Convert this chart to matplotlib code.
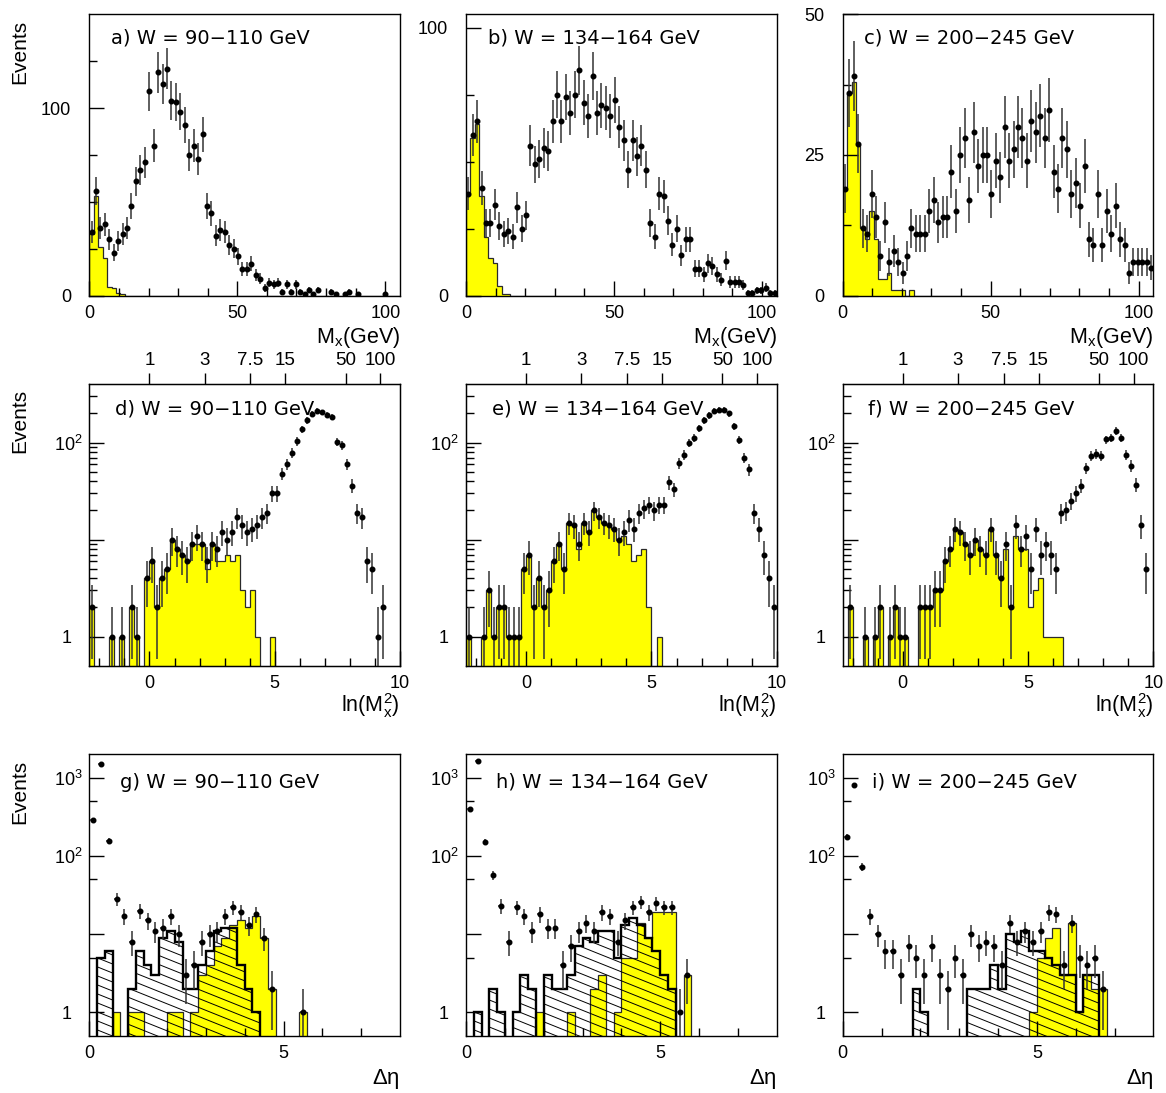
import numpy as np
import matplotlib.pyplot as plt
from matplotlib.patches import Polygon

plt.rcParams['font.family'] = ['Liberation Sans', 'DejaVu Sans']
plt.rcParams['mathtext.fontset'] = 'custom'
plt.rcParams['mathtext.rm'] = 'Liberation Sans'
plt.rcParams['mathtext.it'] = 'Liberation Sans:italic'
plt.rcParams['mathtext.default'] = 'regular'

w_ranges = ['90\u2212110', '134\u2212164', '200\u2212245']

# M_X spectra: 1.5 GeV bins from 0 to 105 GeV
mx_edges = np.linspace(0, 105, 71)
mx_data_a = [34, 56, 36, 38, 30, 23, 29, 33, 36, 48,
             61, 67, 71, 109, 80, 119, 113, 121, 104, 103,
             98, 91, 75, 80, 73, 86, 48, 44, 32, 35,
             34, 27, 25, 21, 14, 14, 17, 11, 9, 4,
             7, 6, 7, 2, 6, 2, 6, 2, 1, 3,
             1, 3, 0, 0, 2, 1, 0, 1, 2, 0,
             1, 0, 0, 0, 0, 0, 1, 0, 0, 0]
mx_mc_a = [33, 53, 26, 20, 4.5, 4, 1.2, 0.8]
mx_data_b = [38, 60, 65, 40, 27, 27, 34, 26, 23, 24,
             22, 33, 25, 30, 56, 49, 51, 55, 54, 65,
             75, 65, 74, 68, 75, 84, 72, 67, 82, 68,
             71, 70, 67, 73, 63, 58, 47, 58, 52, 56,
             47, 27, 22, 38, 37, 28, 19, 25, 15, 21,
             21, 10, 10, 8, 12, 11, 8, 6, 13, 5,
             5, 5, 4, 1, 1, 2, 2, 3, 1, 1]
mx_mc_b = [38, 59, 64, 37, 22, 14, 12, 3.7, 0.7, 0.7]
mx_data_c = [19, 36, 39, 27, 12, 11, 18, 14, 7, 13,
             6, 8, 6, 4, 7, 12, 11, 11, 11, 15,
             17, 13, 14, 14, 22, 15, 25, 28, 17, 29,
             23, 25, 25, 18, 24, 21, 30, 24, 26, 30,
             28, 24, 31, 29, 32, 28, 33, 22, 19, 28,
             26, 18, 20, 16, 23, 10, 9, 18, 9, 15,
             11, 16, 10, 9, 4, 6, 6, 6, 6, 5]
mx_mc_c = [19, 36, 38, 27, 12, 10, 15, 10, 3, 3, 4, 1, 1, 1, 0, 1]

# ln(M_X^2) spectra: 0.2 wide bins from -2.4 to 10
lnm_edges = np.linspace(-2.4, 10, 63)
lnm_data_d = [2, 0, 0, 0, 1, 0, 1, 0, 2, 1,
              0, 4, 6, 2, 4, 5, 10, 8, 7, 6,
              9, 11, 9, 6, 9, 8, 12, 10, 12, 17,
              14, 12, 13, 14, 17, 19, 30, 30, 48, 60,
              79, 103, 137, 170, 198, 211, 205, 195, 185, 102,
              94, 60, 36, 19, 17, 6, 5, 1, 2, 0,
              0, 0]
lnm_mc_d = [2, 0, 0, 0, 1, 0, 1, 0, 2, 1,
            0, 4, 6, 2, 4, 5, 10, 8, 7, 6,
            9, 9, 9, 5, 9, 6, 6, 7, 6, 7,
            3, 2, 3, 1, 0, 0, 1]
lnm_data_e = [1, 0, 0, 1, 3, 1, 2, 2, 1, 1,
              1, 5, 7, 2, 4, 2, 3, 6, 9, 5,
              15, 14, 9, 15, 12, 20, 17, 15, 14, 13,
              10, 12, 16, 13, 19, 21, 23, 20, 23, 23,
              39, 33, 62, 75, 100, 112, 142, 170, 191, 211,
              216, 218, 200, 147, 107, 70, 53, 19, 13, 7,
              4, 2]
lnm_mc_e = [1, 0, 0, 1, 3, 1, 2, 2, 1, 1,
            1, 5, 7, 2, 4, 2, 3, 6, 9, 5,
            15, 14, 8, 15, 12, 20, 17, 15, 14, 13,
            10, 11, 9, 6, 7, 8, 2, 0, 1]
lnm_data_f = [0, 2, 0, 0, 1, 0, 1, 2, 0, 1,
              2, 1, 1, 0, 0, 2, 2, 2, 3, 3,
              6, 8, 13, 12, 9, 7, 10, 8, 7, 13,
              7, 4, 9, 2, 14, 8, 11, 5, 13, 7,
              9, 7, 5, 19, 20, 25, 30, 36, 55, 73,
              77, 73, 108, 113, 132, 112, 75, 58, 37, 14,
              5, 0]
lnm_mc_f = [0, 2, 0, 0, 1, 0, 1, 2, 0, 1,
            2, 1, 1, 0, 0, 2, 2, 2, 3, 3,
            6, 8, 13, 12, 9, 7, 10, 8, 7, 13,
            7, 4, 8, 2, 11, 8, 8, 2, 3, 4,
            1, 1, 1, 1]
mx_top_ticks = [1, 3, 7.5, 15, 50, 100]
mx_top_labels = ['1', '3', '7.5', '15', '50', '100']

# rapidity gap spectra: 0.2 wide bins from 0 to 8
deta_edges = np.linspace(0, 8, 41)
deta_data_g = [290, 1520, 156, 28, 17, 8, 20, 15, 11, 12,
               17, 10, 3, 4, 8, 10, 11, 17, 22, 19,
               13, 18, 9, 2, 0, 0, 0, 1]
deta_mc_g = [0, 0, 0, 1, 0, 1, 1, 0, 0, 0,
             1, 1, 0, 1, 3, 4, 7, 9, 13, 15,
             12, 17, 9, 2, 0, 0, 0, 1]
deta_hatch_g = [0, 5, 6, 0, 0, 2, 6, 4, 3, 9,
                11, 8, 2, 2, 4, 6, 11, 12, 12, 4,
                2, 1]
deta_data_h = [398, 1620, 153, 57, 23, 8, 22, 17, 11, 18,
               12, 12, 4, 7, 11, 14, 11, 19, 17, 8,
               15, 22, 26, 19, 25, 22, 22, 1, 3]
deta_mc_h = [0, 0, 0, 0, 0, 0, 0, 0, 0, 1,
             0, 0, 0, 1, 0, 0, 2, 3, 0, 1,
             5, 5, 14, 9, 19, 19, 19, 0, 3]
deta_hatch_h = [0, 1, 0, 2, 1, 0, 1, 3, 2, 0,
                3, 2, 2, 3, 7, 9, 8, 11, 11, 5,
                13, 16, 13, 9, 6, 3, 2]
deta_data_i = [175, 805, 73, 17, 10, 6, 6, 3, 7, 5,
               3, 7, 3, 2, 5, 3, 10, 7, 8, 7,
               4, 14, 8, 11, 8, 11, 19, 18, 4, 14,
               5, 4, 5, 2]
deta_mc_i = [0, 0, 0, 0, 0, 0, 0, 0, 0, 0,
             0, 0, 0, 0, 0, 0, 0, 0, 0, 0,
             0, 0, 0, 0, 1, 5, 9, 12, 3, 14,
             1, 3, 2, 2]
deta_hatch_i = [0, 0, 0, 0, 0, 0, 0, 0, 0, 2,
                1, 0, 0, 0, 0, 0, 2, 2, 2, 4,
                2, 10, 8, 11, 6, 6, 5, 4, 3, 3,
                1, 3, 3]


def pad(vals, n):
    out = np.zeros(n)
    out[:len(vals)] = vals
    return out


def yellow_hist(ax, edges, vals, floor):
    v = pad(vals, len(edges) - 1)
    v = np.where(v > 0, v, floor)
    ax.stairs(v, edges, baseline=floor, fill=True, facecolor='#ffff00',
              edgecolor='#2a2a2a', linewidth=0.9, zorder=1)


def hatched_hist(ax, edges, vals, floor):
    v = pad(vals, len(edges) - 1)
    v = np.where(v > 0, v, floor)
    xs = np.repeat(edges, 2)
    ys = np.concatenate([[floor], np.repeat(v, 2), [floor]])
    poly = Polygon(np.column_stack([xs, ys]), closed=True, facecolor='none',
                   edgecolor='black', linewidth=1.7, zorder=3)
    ax.add_patch(poly)
    # shallow diagonal hatching, clipped to the histogram outline
    for c in np.arange(0.0, 1.5, 0.032):
        ln, = ax.plot([0, 1], [c, c - 0.442], transform=ax.transAxes,
                      color='black', linewidth=0.7, zorder=2)
        ln.set_clip_path(poly)


def data_points(ax, edges, counts, xerr=None, log=False):
    c = pad(counts, len(edges) - 1)
    centers = 0.5 * (edges[1:] + edges[:-1])
    m = c > 0
    err = np.sqrt(c[m])
    lo = np.minimum(err, c[m] * 0.999) if log else err
    ax.errorbar(centers[m], c[m], yerr=[lo, err], xerr=xerr, fmt='o', ms=3.3,
                color='black', ecolor='#333333', elinewidth=1.1, capsize=0,
                zorder=4)


fig = plt.figure(figsize=(11.66, 10.93), dpi=100)
lefts = [0.0766, 0.3997, 0.7227]
bottoms = [0.7295, 0.3909, 0.0524]
width, height = 0.2665, 0.2575

letters = 'abcdefghi'
title_x = [[0.07, 0.07, 0.069], [0.083, 0.083, 0.082], [0.10, 0.097, 0.093]]
title_y = [0.916, 0.914, 0.90]

top_row = [(mx_data_a, mx_mc_a, [0, 100], [25, 50, 75, 125], 150),
           (mx_data_b, mx_mc_b, [0, 100], [25, 50, 75], 105),
           (mx_data_c, mx_mc_c, [0, 25, 50], [12.5, 37.5], 50)]
mid_row = [(lnm_data_d, lnm_mc_d), (lnm_data_e, lnm_mc_e), (lnm_data_f, lnm_mc_f)]
bot_row = [(deta_data_g, deta_mc_g, deta_hatch_g),
           (deta_data_h, deta_mc_h, deta_hatch_h),
           (deta_data_i, deta_mc_i, deta_hatch_i)]


def frame(ax, ypad):
    for s in ax.spines.values():
        s.set_linewidth(1.0)
    ax.tick_params(which='both', direction='in', top=False, right=False,
                   labelsize=13, width=1.0)
    ax.tick_params(which='major', length=11)
    ax.tick_params(which='minor', length=6)
    ax.tick_params(axis='x', pad=7)
    ax.tick_params(axis='y', pad=ypad)


for row in range(3):
    for col in range(3):
        ax = fig.add_axes([lefts[col], bottoms[row], width, height])
        k = row * 3 + col
        if row == 0:
            dat, mc, ymaj, ymin, ytop = top_row[col]
            yellow_hist(ax, mx_edges, mc, 0)
            data_points(ax, mx_edges, dat)
            ax.set_xlim(0, 105)
            ax.set_ylim(0, ytop)
            ax.set_yticks(ymaj)
            ax.set_yticks(ymin, minor=True)
            ax.set_xticks([0, 50, 100])
            ax.set_xticks([v for v in range(10, 105, 10) if v not in (50, 100)], minor=True)
            frame(ax, 13)
            ax.text(1.0, -0.147, r'M$_x$(GeV)', transform=ax.transAxes,
                    ha='right', va='center', fontsize=15.5)
        elif row == 1:
            dat, mc = mid_row[col]
            ax.set_yscale('log')
            yellow_hist(ax, lnm_edges, mc, 0.1)
            data_points(ax, lnm_edges, dat, xerr=0.07, log=True)
            ax.set_xlim(-2.4, 10)
            ax.set_ylim(0.5, 400)
            ax.set_yticks([1, 10, 100])
            ax.set_yticklabels(['1  ', '', '$10^2$'])
            ax.set_yticks([v * d for d in (1, 10, 100) for v in range(2, 10)
                           if v * d < 400], minor=True)
            ax.set_yticklabels([], minor=True)
            ax.set_xticks([0, 5, 10])
            ax.set_xticks([-2, -1, 1, 2, 3, 4, 6, 7, 8, 9], minor=True)
            frame(ax, 5)
            tw = ax.twiny()
            tw.set_xlim(-2.4, 10)
            tw.set_xticks(2 * np.log(mx_top_ticks))
            tw.set_xticklabels(mx_top_labels)
            tw.tick_params(axis='x', direction='out', length=8, width=1.0,
                           labelsize=13.5, pad=3)
            tw.xaxis.set_minor_locator(plt.NullLocator())
            ax.text(1.0, -0.143, r'ln(M$_x^2$)', transform=ax.transAxes,
                    ha='right', va='center', fontsize=15.5)
        else:
            dat, mc, hat = bot_row[col]
            ax.set_yscale('log')
            yellow_hist(ax, deta_edges, mc, 0.1)
            hatched_hist(ax, deta_edges, hat, 0.1)
            data_points(ax, deta_edges, dat, xerr=0.07, log=True)
            ax.set_xlim(0, 8)
            ax.set_ylim(0.5, 2000)
            ax.set_yticks([1, 10, 100, 1000])
            ax.set_yticklabels(['1  ', '', '$10^2$', '$10^3$'])
            ax.set_yticks([5, 50, 500], minor=True)
            ax.set_yticklabels([], minor=True)
            ax.set_xticks([0, 5])
            ax.set_xticks([1, 2, 3, 4, 6, 7], minor=True)
            frame(ax, 5)
            ax.text(1.0, -0.154, r'$\Delta\eta$', transform=ax.transAxes,
                    ha='right', va='center', fontsize=16)
        ax.text(title_x[row][col], title_y[row],
                f'{letters[k]}) W = {w_ranges[col]} GeV',
                transform=ax.transAxes, ha='left', va='center', fontsize=14,
                family='DejaVu Sans', zorder=6)

for yc in (0.9524, 0.6148, 0.2754):
    fig.text(0.0172, yc, 'Events', rotation=90, ha='center', va='center',
             fontsize=15)

fig.savefig('out.png', dpi=100)
